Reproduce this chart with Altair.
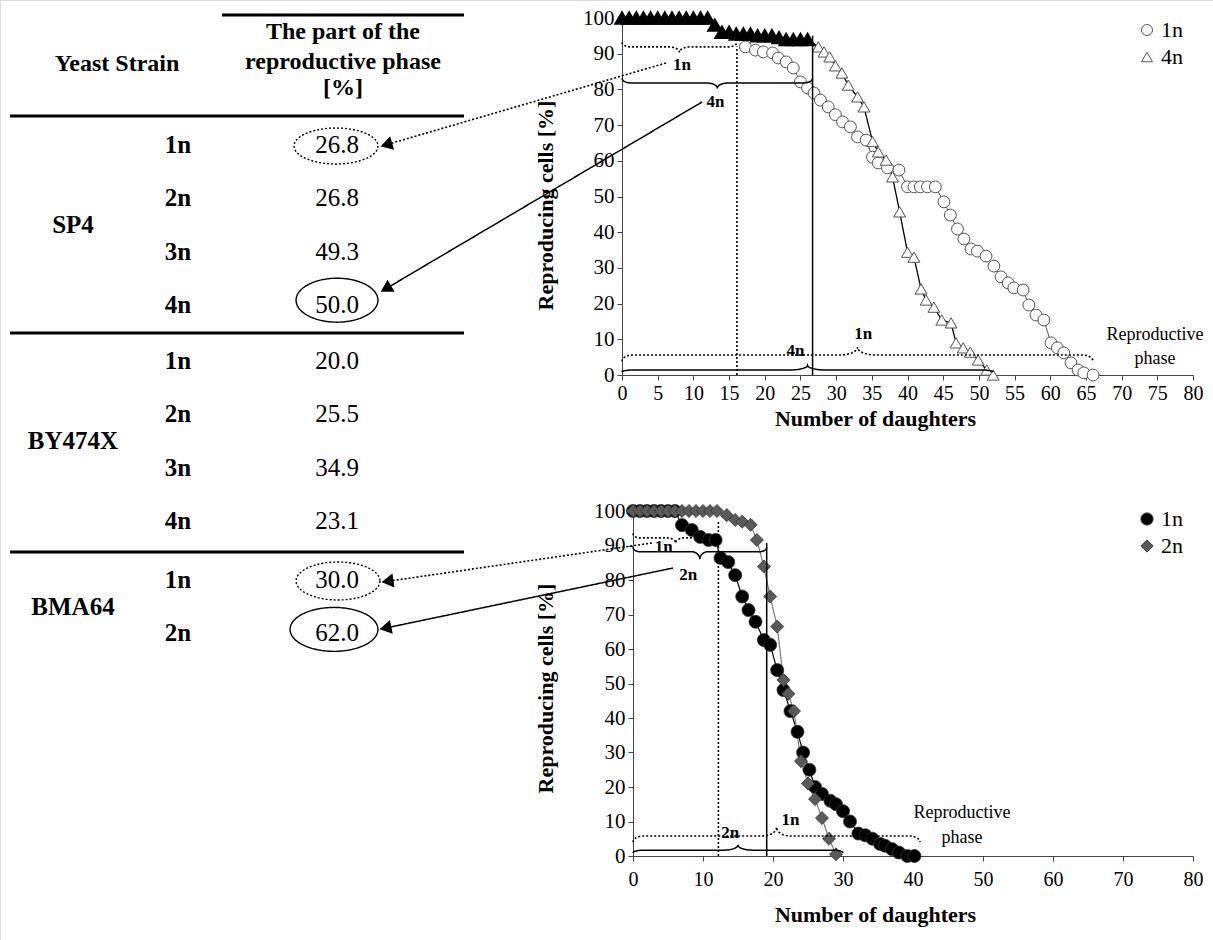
import math
import altair as alt
import pandas as pd

FONT = "Liberation Serif"
W, H = 1213, 940

# ---------------- table values ----------------
strains = ["SP4", "BY474X", "BMA64"]
ploidy = [["1n", "2n", "3n", "4n"], ["1n", "2n", "3n", "4n"], ["1n", "2n"]]
phase_pct = [[26.8, 26.8, 49.3, 50.0], [20.0, 25.5, 34.9, 23.1], [30.0, 62.0]]
header_left = "Yeast Strain"
header_right = ["The part of the", "reproductive phase", "[%]"]

# ---------------- SP4 curves (top chart) ----------------
sp4_1n_x = [17.3, 18.7, 19.8, 21.1, 21.9, 23.0, 24.0, 25.0, 26.0, 26.9, 27.8, 28.9, 29.9, 30.9, 32.0,
            33.0, 34.2, 35.1, 35.9, 37.2, 38.8, 40.0, 40.9, 41.8, 42.8, 43.9, 45.1, 46.0, 47.0, 47.9,
            48.9, 49.8, 51.0, 52.1, 53.1, 54.1, 54.9, 56.2, 57.0, 58.0, 59.1, 60.1, 61.0, 61.9, 62.9,
            63.9, 64.7, 66.0]
sp4_1n_y = [91.9, 91.0, 90.5, 90.2, 88.8, 87.7, 86.0, 82.1, 80.4, 79.0, 77.0, 75.1, 72.9, 70.9, 69.5,
            66.7, 65.8, 61.0, 59.4, 58.0, 57.4, 52.7, 52.7, 52.7, 52.7, 52.7, 48.5, 44.8, 40.9, 38.1,
            35.3, 34.7, 33.3, 30.5, 27.5, 25.8, 24.4, 23.8, 19.6, 16.8, 15.4, 9.0, 7.6, 6.2, 3.4,
            1.4, 0.6, 0.0]
sp4_4n_early_x = list(range(0, 27))
sp4_4n_early_y = [100] * 13 + [98, 96, 96, 95.5, 95.5, 95.5, 95, 95, 95, 94.5, 94, 94, 94, 94]
sp4_4n_x = [27.5, 28.3, 29.1, 29.9, 30.8, 31.7, 33.0, 33.9, 35.1, 35.9, 37.0, 37.9, 38.9, 40.0, 40.9,
            41.9, 42.6, 43.7, 44.8, 46.1, 46.8, 47.8, 48.8, 49.9, 51.1, 52.0]
sp4_4n_y = [91.9, 90.5, 89.1, 86.6, 84.6, 81.2, 77.9, 75.1, 65.4, 62.5, 60.2, 55.5, 45.7, 34.4, 33.0,
            24.1, 21.0, 19.0, 15.4, 14.6, 9.0, 7.6, 6.4, 4.2, 1.4, 0.0]
sp4_phase_end = {"1n": 16.1, "4n": 26.7}
sp4_lifespan = {"1n": 66, "4n": 52}

# ---------------- BMA64 curves (bottom chart) ----------------
bma_1n_x = [0, 1, 2, 3, 4, 5, 6, 7.0, 8.4, 9.6, 10.8, 11.8, 12.5, 13.6, 14.6, 15.6, 16.5, 17.5, 18.7,
            19.6, 20.6, 21.5, 22.5, 23.5, 24.3, 25.2, 26.0, 27.0, 28.2, 29.0, 30.0, 31.0, 32.2, 33.2,
            34.2, 35.3, 36.0, 37.0, 38.0, 39.2, 40.2]
bma_1n_y = [100, 100, 100, 100, 100, 100, 100, 95.9, 94.5, 92.5, 91.6, 91.6, 86.4, 85.2, 81.4, 75.2,
            71.3, 67.9, 62.6, 61.2, 53.9, 48.1, 42.0, 36.0, 30.0, 25.0, 20.0, 18.0, 16.0, 15.0, 13.0,
            10.0, 6.5, 6.0, 5.0, 3.5, 3.0, 2.0, 1.0, 0.0, 0.0]
bma_2n_x = [0, 1, 2, 3, 4, 5, 6, 7, 8, 9, 10, 11, 12, 13.4, 14.6, 15.6, 16.8, 17.7, 18.7, 19.6, 20.6,
            21.5, 22.2, 23.0, 24.0, 25.0, 26.0, 27.0, 28.0, 29.0]
bma_2n_y = [100] * 13 + [98.8, 97.4, 96.9, 96.0, 91.6, 83.9, 75.2, 66.5, 51.0, 47.0, 42.0, 27.5, 21.0,
                         16.5, 11.0, 5.0, 0.5]
bma_phase_end = {"1n": 12.2, "2n": 19.1}
bma_lifespan = {"1n": 41, "2n": 30}

x_title = "Number of daughters"
y_title = "Reproducing cells [%]"
phase_text = ["Reproductive", "phase"]

# ---------------- geometry ----------------
TOP = dict(x0=622, x1=1193, y0=375, y1=18)
BOT = dict(x0=633, x1=1193, y0=856, y1=511)


def xsc(g):
    return alt.Scale(domain=[0, 80], range=[g["x0"], g["x1"]], nice=False, zero=False)


def ysc(g):
    return alt.Scale(domain=[0, 100], range=[g["y0"], g["y1"]], nice=False, zero=False)


PXS = alt.Scale(domain=[0, W], range=[0, W], nice=False, zero=False)
PYS = alt.Scale(domain=[0, H], range=[0, H], nice=False, zero=False)


def x_axis(g, step, title_y, label_pad):
    return alt.Axis(orient="bottom", offset=g["y0"] - H, values=list(range(0, 81, step)),
                    labelFont=FONT, labelFontSize=20, labelColor="black", labelPadding=label_pad,
                    labelFlush=False, tickSize=5, tickColor="#444", domainColor="#444", grid=False,
                    title=x_title, titleFont=FONT, titleFontSize=22, titleFontWeight="bold",
                    titleColor="black", titleX=875, titleY=title_y, titleBaseline="middle")


def y_axis(g, title_cy):
    return alt.Axis(orient="left", offset=-g["x0"], values=list(range(0, 101, 10)),
                    labelFont=FONT, labelFontSize=21, labelColor="black", labelPadding=3,
                    tickSize=5, tickColor="#444", domainColor="#444", grid=False,
                    title=y_title, titleFont=FONT, titleFontSize=22, titleFontWeight="bold",
                    titleColor="black", titleX=545 - g["x0"], titleY=title_cy, titleAngle=270,
                    titleAlign="center", titleBaseline="middle")


def brace(x0, x1, y, tip, E, T, de, dt, bid, n=10):
    pts = []
    for k in range(n + 1):
        th = math.pi / 2 * k / n
        pts.append((x0 + de - de * math.cos(th), y + E - E * math.sin(th)))
    for k in range(n + 1):
        th = math.pi / 2 * k / n
        pts.append((tip - dt + dt * math.sin(th), y + T - T * math.cos(th)))
    for k in range(n + 1):
        th = math.pi / 2 * k / n
        pts.append((tip + dt - dt * math.cos(th), y + T - T * math.sin(th)))
    for k in range(n + 1):
        th = math.pi / 2 * k / n
        pts.append((x1 - de + de * math.sin(th), y + E - E * math.cos(th)))
    return [dict(x=px, y=py, i=i, id=bid) for i, (px, py) in enumerate(pts)]


def make_legend(ly, ssize):
    return alt.Legend(title=None, orient="none", legendX=1136, legendY=ly, labelFont=FONT,
                      labelFontSize=22, labelColor="black", symbolSize=ssize,
                      symbolStrokeWidth=1, labelOffset=3, rowPadding=5)


layers = []


def chart_layers(g, s1_name, s1x, s1y, s2_name, s2x, s2y, kind, early=None,
                 xstep=5, title_y=40, label_pad=3, title_cy=200,
                 braces_dot=(), braces_sol=(), vlines=(), labels=(), legend_y=18):
    X = lambda f, ax=None: alt.X(f"{f}:Q", scale=xsc(g), axis=ax)
    Y = lambda f, ax=None: alt.Y(f"{f}:Q", scale=ysc(g), axis=ax)
    out = []
    sdom = [s1_name, s2_name]
    d1 = pd.DataFrame({"x": s1x, "y": s1y, "series": s1_name})
    d2 = pd.DataFrame({"x": s2x, "y": s2y, "series": s2_name})
    pts = pd.concat([d1, d2])
    if kind == "top":
        d2all = pd.DataFrame({"x": list(early[0]) + list(s2x), "y": list(early[1]) + list(s2y),
                              "series": s2_name})
        out.append(alt.Chart(d1).mark_line(color="#555", strokeWidth=1).encode(
            x=X("x", x_axis(g, xstep, title_y, label_pad)), y=Y("y", y_axis(g, title_cy))))
        out.append(alt.Chart(d2all).mark_line(color="black", strokeWidth=1.3).encode(
            x=X("x"), y=Y("y")))
        leg = make_legend(legend_y, 120)
        out.append(alt.Chart(pts).mark_point(filled=True, stroke="#555", strokeWidth=1,
                                             opacity=1, size=140).encode(
            x=X("x"), y=Y("y"),
            shape=alt.Shape("series:N", scale=alt.Scale(domain=sdom,
                                                        range=["circle", "triangle-up"]),
                            legend=leg),
            fill=alt.Fill("series:N", scale=alt.Scale(domain=sdom, range=["white", "white"]),
                          legend=leg)))
        de = pd.DataFrame({"x": early[0], "y": early[1]})
        out.append(alt.Chart(de).mark_point(filled=True, fill="black", stroke="black",
                                            shape="triangle-up", size=175, opacity=1).encode(
            x=X("x"), y=Y("y")))
    else:
        out.append(alt.Chart(d1).mark_line(color="black", strokeWidth=1.2).encode(
            x=X("x", x_axis(g, xstep, title_y, label_pad)), y=Y("y", y_axis(g, title_cy))))
        out.append(alt.Chart(d2).mark_line(color="#7f7f7f", strokeWidth=1.2).encode(
            x=X("x"), y=Y("y")))
        leg = make_legend(legend_y, 150)
        out.append(alt.Chart(pts).mark_point(filled=True, stroke="#333", strokeWidth=0.8,
                                             opacity=1, size=170).encode(
            x=X("x"), y=Y("y"),
            shape=alt.Shape("series:N", scale=alt.Scale(domain=sdom, range=["circle", "diamond"]),
                            legend=leg),
            fill=alt.Fill("series:N", scale=alt.Scale(domain=sdom, range=["black", "#5a5a5a"]),
                          legend=leg)))
    # annotations
    vl = pd.DataFrame([dict(x=v[0], y0=0, y1=v[1], dash=v[2]) for v in vlines])
    for dashed in (True, False):
        sub = vl[vl.dash == dashed]
        if len(sub):
            m = alt.Chart(sub).mark_rule(color="black", strokeWidth=1.6 if dashed else 1.5,
                                         strokeDash=[2, 2] if dashed else [1, 0])
            out.append(m.encode(x=X("x"), y=Y("y0"), y2="y1"))
    for group, dashed in ((braces_dot, True), (braces_sol, False)):
        rows = []
        for bi, b in enumerate(group):
            rows += brace(*b, bid=bi)
        if rows:
            m = alt.Chart(pd.DataFrame(rows)).mark_line(
                color="black", strokeWidth=1.6 if dashed else 1.5,
                strokeDash=[2, 2] if dashed else [1, 0])
            out.append(m.encode(x=X("x"), y=Y("y"), order="i:Q", detail="id:N"))
    lab = pd.DataFrame([dict(x=l[0], y=l[1], t=l[2]) for l in labels])
    out.append(alt.Chart(lab).mark_text(font=FONT, fontSize=17, fontWeight="bold", color="black",
                                        align="center", baseline="middle").encode(
        x=X("x"), y=Y("y"), text="t:N"))
    return out


# top chart (SP4): brace = (x0, x1, y, tip, E, T, de, dt)
e1, e4 = sp4_phase_end["1n"], sp4_phase_end["4n"]
l1, l4 = sp4_lifespan["1n"], sp4_lifespan["4n"]
layers += chart_layers(
    TOP, "1n", sp4_1n_x, sp4_1n_y, "4n", sp4_4n_x, sp4_4n_y, "top",
    early=(sp4_4n_early_x, sp4_4n_early_y), xstep=5, title_y=43, label_pad=3, title_cy=205,
    braces_dot=[(0, e1, 91.9, e1 / 2, 1.3, -1.5, 1.3, 1.5), (0, l1, 5.6, l1 / 2, -1.8, 2.2, 1.5, 2.5)],
    braces_sol=[(0, e4, 81.8, e4 / 2, 1.3, -1.5, 1.3, 1.5), (0, l4, 1.4, l4 / 2, -0.6, 1.3, 1.5, 2.5)],
    vlines=[(e1, 92, True), (e4, 95, False)],
    labels=[(8.4, 86.8, "1n"), (13.1, 76.6, "4n"), (24.3, 6.8, "4n"), (33.8, 11.5, "1n")],
    legend_y=19)

b1, b2 = bma_phase_end["1n"], bma_phase_end["2n"]
m1, m2 = bma_lifespan["1n"], bma_lifespan["2n"]
layers += chart_layers(
    BOT, "1n", bma_1n_x, bma_1n_y, "2n", bma_2n_x, bma_2n_y, "bottom",
    xstep=10, title_y=58, label_pad=8, title_cy=688,
    braces_dot=[(0, b1, 92.2, b1 / 2, 1.3, -1.5, 1.0, 1.2), (0, m1, 5.8, m1 / 2, -1.8, 2.6, 1.5, 2.0)],
    braces_sol=[(0, b2, 88.2, b2 / 2, 1.3, -2.2, 1.0, 1.2), (0, m2, 1.7, m2 / 2, -0.8, 1.5, 1.5, 2.0)],
    vlines=[(b1, 97, True), (b2, 90.7, False)],
    labels=[(4.4, 89.7, "1n"), (7.9, 81.4, "2n"), (22.5, 10.4, "1n"), (13.9, 6.7, "2n")],
    legend_y=508)

# ---------------- pixel-space layer: table, arrows, notes ----------------
PX = lambda f: alt.X(f"{f}:Q", scale=PXS, axis=None)
PY = lambda f: alt.Y(f"{f}:Q", scale=PYS, axis=None)

group_row0 = [145, 361, 580]
ROW_STEP = 53.4
PLOIDY_X, VALUE_X, STRAIN_X = 178, 337, 73

bold_rows, val_rows, head_rows_t, row_y = [], [], [], {}
for s, plist, vals, y0 in zip(strains, ploidy, phase_pct, group_row0):
    ys = [y0 + i * ROW_STEP for i in range(len(plist))]
    for p, v, yy in zip(plist, vals, ys):
        bold_rows.append(dict(x=PLOIDY_X, y=yy, t=p))
        val_rows.append(dict(x=VALUE_X, y=yy, t=f"{v:.1f}"))
        row_y[(s, p)] = yy
    bold_rows.append(dict(x=STRAIN_X, y=sum(ys) / len(ys), t=s))
head_rows_t.append(dict(x=117, y=64, t=header_left))
for t, yy in zip(header_right, [32, 62, 88]):
    head_rows_t.append(dict(x=343, y=yy, t=t))

layers.append(alt.Chart(pd.DataFrame(head_rows_t)).mark_text(
    font=FONT, fontSize=24, fontWeight="bold", color="black", align="center",
    baseline="middle").encode(x=PX("x"), y=PY("y"), text="t:N"))
layers.append(alt.Chart(pd.DataFrame(bold_rows)).mark_text(
    font=FONT, fontSize=25, fontWeight="bold", color="black", align="center",
    baseline="middle").encode(x=PX("x"), y=PY("y"), text="t:N"))
layers.append(alt.Chart(pd.DataFrame(val_rows)).mark_text(
    font=FONT, fontSize=25, color="black", align="center", baseline="middle").encode(
    x=PX("x"), y=PY("y"), text="t:N"))

rules = pd.DataFrame([dict(x=222, x2=464, y=15), dict(x=10, x2=464, y=116),
                      dict(x=10, x2=464, y=333), dict(x=10, x2=464, y=552)])
layers.append(alt.Chart(rules).mark_rule(color="black", strokeWidth=3.2).encode(
    x=PX("x"), x2="x2", y=PY("y")))

# ellipses around highlighted values: (strain, ploidy, dx, dy, w, h, dashed)
ell_specs = [("SP4", "1n", -1, 1, 84, 36, True), ("SP4", "4n", 0, -5, 82, 44, False),
             ("BMA64", "1n", 1, 1, 84, 38, True), ("BMA64", "2n", -3, -4, 88, 44, False)]
ell_rows = []
for s, p, dx, dy, w, h, dashed in ell_specs:
    r = h / w
    ptsE = [(math.cos(2 * math.pi * k / 48), r * math.sin(2 * math.pi * k / 48)) for k in range(48)]
    path = "M" + " L".join(f"{a:.4f},{b:.4f}" for a, b in ptsE) + " Z"
    ell_rows.append(dict(x=VALUE_X + dx, y=row_y[(s, p)] + dy, path=path, sz=w * w, dash=dashed))
ell = pd.DataFrame(ell_rows)
for dashed in (True, False):
    layers.append(alt.Chart(ell[ell.dash == dashed]).mark_point(
        filled=False, stroke="black", strokeWidth=1.4, opacity=1,
        strokeDash=[2, 2] if dashed else [1, 0]).encode(
        x=PX("x"), y=PY("y"), shape=alt.Shape("path:N", scale=None),
        size=alt.Size("sz:Q", scale=None)))

# arrows: (x_start, y_start, x_end, y_end, dashed)
arrows = [(666, 63, 382, 146, True), (702, 102, 382, 291, False),
          (652, 543, 383, 582, True), (673, 568, 381, 629, False)]
arr_rows, head_rows = [], []
for xs_, ys_, xe, ye, dashed in arrows:
    L = math.hypot(xe - xs_, ye - ys_)
    ux, uy = (xe - xs_) / L, (ye - ys_) / L
    arr_rows.append(dict(x=xs_, y=ys_, x2=xe - ux * 8, y2=ye - uy * 8, dash=dashed))
    head_rows.append(dict(x=xe - ux * 5, y=ye - uy * 5,
                          ang=math.degrees(math.atan2(uy, ux)) % 360))
arr = pd.DataFrame(arr_rows)
for dashed in (True, False):
    layers.append(alt.Chart(arr[arr.dash == dashed]).mark_rule(
        color="black", strokeWidth=1.6 if dashed else 1.5,
        strokeDash=[2, 2] if dashed else [1, 0]).encode(
        x=PX("x"), y=PY("y"), x2="x2", y2="y2"))
layers.append(alt.Chart(pd.DataFrame(head_rows)).mark_point(
    filled=True, fill="black", stroke="black", shape="triangle-right", size=110, opacity=1).encode(
    x=PX("x"), y=PY("y"), angle=alt.Angle("ang:Q", scale=None)))

notes = pd.DataFrame([dict(x=1155, y=335, t=phase_text[0]), dict(x=1155, y=359, t=phase_text[1]),
                      dict(x=962, y=813, t=phase_text[0]), dict(x=962, y=838, t=phase_text[1])])
layers.append(alt.Chart(notes).mark_text(font=FONT, fontSize=18, color="black", align="center",
                                         baseline="middle").encode(
    x=PX("x"), y=PY("y"), text="t:N"))

chart = alt.layer(*layers).resolve_scale(
    x="independent", y="independent", shape="independent", fill="independent"
).resolve_axis(x="independent", y="independent").resolve_legend(
    shape="independent", fill="independent"
).properties(width=W, height=H, padding=0, autosize=alt.AutoSizeParams(type="none")
).configure_view(stroke=None).configure(font=FONT)

chart.save("out.html", embed_options={"renderer": "svg", "actions": False})
